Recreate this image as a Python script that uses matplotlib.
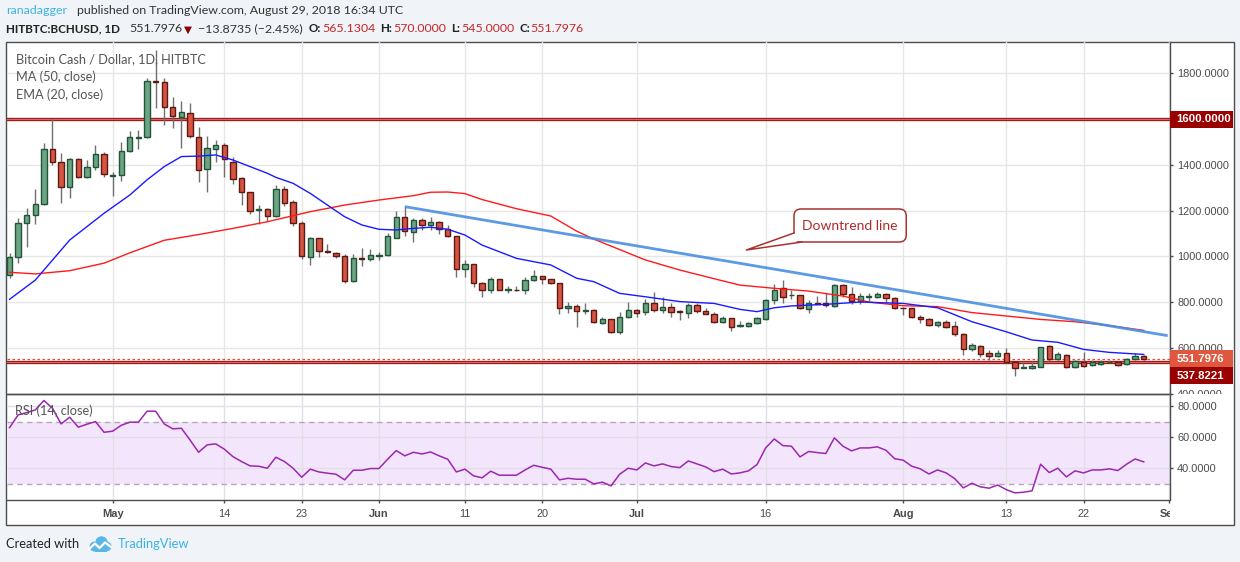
import numpy as np
import pandas as pd
import matplotlib
matplotlib.use("Agg")
import matplotlib.pyplot as plt
import matplotlib.transforms as mtransforms
from matplotlib.patches import Rectangle, FancyBboxPatch, Polygon, Circle

# =========================
# Data
# =========================
first_day = "2018-04-19"

opens = [918, 995, 1144, 1179, 1227, 1468, 1411, 1304, 1425, 1345, 1392, 1446,
         1353, 1355, 1460, 1518, 1520, 1768, 1760, 1651, 1608, 1625, 1523, 1380,
         1469, 1485, 1414, 1341, 1280, 1203, 1205, 1178, 1293, 1236, 1144, 998,
         1079, 1023, 1016, 1003, 893, 992, 987, 1003, 1006, 1082, 1170, 1105,
         1157, 1135, 1148, 1118, 1087, 943, 965, 882, 851, 899, 852, 854,
         851, 895, 912, 899, 882, 772, 781, 762, 764, 707, 724, 670,
         733, 764, 755, 794, 767, 777, 760, 754, 786, 762, 749, 711,
         729, 696, 697, 707, 726, 807, 860, 829, 829, 771, 796, 794,
         784, 873, 834, 806, 824, 824, 835, 816, 776, 773, 733, 727,
         698, 713, 695, 659, 593, 609, 576, 566, 576, 536, 513, 513,
         517, 609, 552, 570, 515, 538, 523, 529, 537, 538, 528, 551, 565.13]
highs = [1013, 1166, 1210, 1293, 1494, 1599, 1450, 1428, 1428, 1421, 1487, 1457,
         1370, 1501, 1548, 1552, 1780, 1900, 1778, 1695, 1680, 1669, 1567, 1526,
         1508, 1497, 1435, 1345, 1282, 1224, 1212, 1312, 1307, 1246, 1156, 1083,
         1081, 1054, 1019, 1010, 1010, 1036, 1030, 1017, 1100, 1199, 1217, 1166,
         1166, 1173, 1154, 1137, 1087, 984, 965, 889, 911, 902, 870, 870,
         911, 940, 915, 902, 882, 800, 791, 794, 768, 733, 727, 756,
         800, 768, 812, 842, 823, 797, 765, 794, 794, 775, 758, 739,
         732, 716, 714, 736, 813, 879, 896, 853, 832, 809, 826, 838,
         879, 879, 867, 838, 838, 844, 838, 821, 780, 775, 743, 732,
         717, 721, 717, 663, 622, 612, 590, 590, 598, 539, 542, 542,
         605, 612, 583, 573, 545, 583, 547, 547, 547, 544, 557, 576, 570]
lows = [904, 969, 1042, 1141, 1225, 1399, 1234, 1253, 1341, 1343, 1377, 1345,
        1264, 1331, 1457, 1468, 1518, 1650, 1574, 1559, 1472, 1516, 1326, 1282,
        1414, 1345, 1316, 1224, 1185, 1140, 1156, 1170, 1220, 1132, 990, 962,
        998, 1013, 991, 885, 889, 959, 981, 985, 1001, 1079, 1090, 1064,
        1115, 1115, 1096, 1086, 911, 911, 867, 824, 841, 851, 841, 850,
        834, 892, 877, 879, 746, 754, 689, 748, 707, 703, 666, 662,
        729, 736, 742, 758, 751, 736, 721, 732, 751, 746, 707, 707,
        675, 692, 692, 704, 721, 790, 794, 812, 768, 754, 790, 780,
        780, 823, 790, 790, 806, 818, 794, 768, 743, 729, 707, 694,
        692, 685, 651, 568, 587, 561, 547, 558, 532, 478, 510, 509,
        517, 542, 547, 510, 512, 515, 520, 526, 532, 520, 523, 547, 545]
closes = [995, 1144, 1179, 1227, 1468, 1411, 1304, 1425, 1345, 1392, 1446, 1358,
          1357, 1460, 1520, 1522, 1768, 1760, 1651, 1613, 1629, 1526, 1377, 1472,
          1485, 1424, 1336, 1282, 1199, 1206, 1178, 1293, 1232, 1144, 1003, 1079,
          1022, 1017, 1001, 893, 991, 988, 1004, 1006, 1087, 1170, 1109, 1157,
          1135, 1148, 1118, 1087, 943, 965, 882, 851, 899, 851, 854, 851,
          895, 912, 899, 882, 772, 781, 762, 765, 711, 724, 670, 733,
          764, 751, 794, 767, 777, 758, 757, 786, 762, 749, 711, 729,
          692, 699, 708, 729, 807, 854, 823, 831, 772, 794, 792, 786,
          873, 834, 806, 826, 827, 835, 816, 775, 773, 733, 724, 698,
          713, 689, 659, 593, 612, 573, 566, 576, 536, 513, 516, 520,
          605, 550, 571, 515, 541, 520, 538, 538, 539, 525, 551, 565.67, 551.80]

rsi_values = [66.2, 74.4, 75.9, 77.6, 83.7, 78.7, 68.6, 72.9, 66.5, 68.4, 70.1, 63.2,
              63.9, 67.7, 69.7, 69.7, 76.8, 76.8, 68.6, 65.4, 65.8, 58.3, 50.3, 55.1,
              55.7, 52.3, 47.5, 44.3, 41.5, 41.3, 40.0, 47.1, 44.3, 40.0, 34.2, 39.4,
              37.6, 36.8, 36.1, 32.5, 38.7, 38.7, 39.8, 39.8, 45.8, 51.4, 48.0, 50.3,
              49.2, 50.5, 48.0, 45.8, 37.6, 39.4, 35.1, 33.8, 38.1, 35.5, 35.5, 35.5,
              38.9, 41.9, 40.6, 39.4, 32.5, 33.5, 32.9, 32.9, 29.9, 31.0, 28.6, 36.1,
              40.0, 38.9, 43.4, 41.5, 42.8, 41.1, 40.4, 44.7, 42.8, 40.9,
              37.8, 39.4, 36.3, 37.0, 38.3, 42.4, 53.1, 58.9, 54.6, 54.2,
              47.3, 50.8, 50.1, 49.5, 59.6, 54.2, 51.2, 53.1, 53.1, 53.8,
              51.6, 46.2, 45.2, 41.3, 39.6, 36.3, 38.9, 37.0, 33.3, 27.3,
              30.3, 28.0, 27.1, 29.2, 26.2, 24.1, 24.5, 25.4, 42.6, 37.2,
              40.0, 34.4, 38.3, 37.0, 38.9, 38.9, 39.6, 38.5, 42.6, 46.0, 44.1]

ma50_dates = ["2018-04-19", "2018-04-22", "2018-04-26", "2018-04-30", "2018-05-03",
              "2018-05-07", "2018-05-11", "2018-05-15", "2018-05-19", "2018-05-20",
              "2018-05-24", "2018-05-28", "2018-06-01", "2018-06-05", "2018-06-07",
              "2018-06-09", "2018-06-11", "2018-06-13", "2018-06-17", "2018-06-21",
              "2018-06-24", "2018-06-26", "2018-07-02", "2018-07-06", "2018-07-10",
              "2018-07-13", "2018-07-17", "2018-07-21", "2018-07-25", "2018-07-28",
              "2018-08-01", "2018-08-05", "2018-08-09", "2018-08-13", "2018-08-17",
              "2018-08-21", "2018-08-25", "2018-08-29"]
ma50_values = [930, 923, 937, 970, 1015, 1070, 1095, 1122, 1151, 1160,
               1195, 1224, 1246, 1265, 1280, 1281, 1274, 1248, 1208, 1176,
               1110, 1075, 984, 940, 902, 874, 860, 848, 826, 800,
               784, 780, 754, 739, 724, 714, 697, 676]

ema20_dates = ["2018-04-19", "2018-04-22", "2018-04-26", "2018-04-30", "2018-05-03",
               "2018-05-05", "2018-05-07", "2018-05-09", "2018-05-11", "2018-05-13",
               "2018-05-15", "2018-05-19", "2018-05-20", "2018-05-22", "2018-05-24",
               "2018-05-28", "2018-05-30", "2018-06-01", "2018-06-03", "2018-06-05",
               "2018-06-07", "2018-06-09", "2018-06-11", "2018-06-13", "2018-06-17",
               "2018-06-21", "2018-06-24", "2018-06-26", "2018-06-29", "2018-07-02",
               "2018-07-06", "2018-07-10", "2018-07-13", "2018-07-15", "2018-07-17",
               "2018-07-19", "2018-07-23", "2018-07-27", "2018-08-01", "2018-08-05",
               "2018-08-09", "2018-08-13", "2018-08-16", "2018-08-19", "2018-08-22",
               "2018-08-25", "2018-08-29"]
ema20_values = [812, 896, 1071, 1188, 1268, 1334, 1392, 1436, 1438, 1443,
                1421, 1363, 1345, 1319, 1275, 1173, 1137, 1118, 1115, 1122,
                1127, 1118, 1093, 1049, 991, 962, 904, 889, 838, 823,
                802, 794, 768, 758, 775, 783, 790, 800, 794, 775,
                714, 670, 634, 624, 593, 580, 571]

# trend line drawn by the author (date, price)
trend_dates = ["2018-06-04", "2018-08-31 19:00"]
trend_prices = [1217, 653]

resistance = 1600.0
support = 537.8221
last_close = 551.7976

tick_dates = ["2018-05-01", "2018-05-14", "2018-05-23", "2018-06-01", "2018-06-11",
              "2018-06-20", "2018-07-01", "2018-07-16", "2018-08-01", "2018-08-13",
              "2018-08-22", "2018-09-01"]
tick_labels = ["May", "14", "23", "Jun", "11", "20", "Jul", "16", "Aug", "13", "22", "Sep"]
month_labels = {"May", "Jun", "Jul", "Aug", "Sep"}

# =========================
# Helpers
# =========================
t0 = pd.Timestamp(first_day)


def day_pos(dates):
    return np.array([(pd.Timestamp(d) - t0) / pd.Timedelta(days=1) for d in dates])


o = np.array(opens, float)
h = np.array(highs, float)
l = np.array(lows, float)
c = np.array(closes, float)
idx = np.arange(len(c))

W, H = 1240, 562
px = mtransforms.Affine2D().scale(1, -1).translate(0, H)  # pixel coords, origin top-left

GREEN, GREEN_EDGE = "#6ba583", "#225437"
RED, RED_EDGE = "#d75442", "#5b1a13"
TXT = "#4b4b4b"
FRAME = "#4d4d4d"
SANS = ["Lato", "DejaVu Sans"]

plt.rcParams['font.family'] = ['Liberation Sans', 'DejaVu Sans']

fig = plt.figure(figsize=(W / 100, H / 100), dpi=100)
fig.patch.set_facecolor("#f0f3f7")
fig.add_artist(Rectangle((6, 41.5), 1228, 483.5, transform=px, fc="white",
                         ec=FRAME, lw=1, zorder=-5))

left, right = 6.7, 1169.5
ax = fig.add_axes([left / W, 1 - 394 / H, (right - left) / W, (394 - 41.5) / H])
ax_rsi = fig.add_axes([left / W, 1 - 500 / H, (right - left) / W, (500 - 394) / H])

xlim = (-0.33, 134.93)
tick_pos = day_pos(tick_dates)

# =====================
# Price pane
# =====================
ax.set_xlim(*xlim)
ax.set_ylim(398.0, 1939.0)
ax.set_facecolor("none")

up = c >= o
body_lo = np.minimum(o, c)
body_h = np.maximum(np.abs(c - o), 3.0)
ax.vlines(idx, l, h, color="#707070", lw=1, zorder=3)
ax.bar(idx[up], body_h[up], bottom=body_lo[up], width=0.62, color=GREEN,
       edgecolor=GREEN_EDGE, lw=1, zorder=4)
ax.bar(idx[~up], body_h[~up], bottom=body_lo[~up], width=0.62, color=RED,
       edgecolor=RED_EDGE, lw=1, zorder=4)

ax.plot(day_pos(ma50_dates), ma50_values, color="#ff1a1a", lw=1, zorder=5)
ax.plot(day_pos(ema20_dates), ema20_values, color="#1a1aff", lw=1, zorder=5)
ax.plot(day_pos(trend_dates), trend_prices, color="#4a8fe2", lw=2.0, zorder=6,
        solid_capstyle="butt", alpha=0.9)

for lvl in (resistance, support):
    ax.axhline(lvl, color="#a01c1c", lw=2.4, zorder=2)
    ax.axhline(lvl, color="#d66a6a", lw=0.7, zorder=2)
ax.axhline(last_close, color="#e8493a", lw=0.9, ls=(0, (2, 2)), zorder=2)

yt = np.arange(400, 1801, 200)
ax.set_yticks(yt)
ax.set_yticklabels([f"{v:.4f}" for v in yt])
ax.yaxis.tick_right()
ax.tick_params(axis="y", direction="out", length=2.2, width=1, color=FRAME,
               labelsize=7.9, labelcolor=TXT, pad=3.2)
ax.set_xticks(tick_pos)
ax.tick_params(axis="x", length=0, labelbottom=False)
ax.grid(True, color="#e6e6e6", lw=1)
ax.set_axisbelow(True)
for s in ("top", "left"):
    ax.spines[s].set_visible(False)
for s in ("bottom", "right"):
    ax.spines[s].set_color(FRAME)
    ax.spines[s].set_linewidth(1)

clip_price = mtransforms.TransformedBbox(
    mtransforms.Bbox([[0, 1 - 394 / H], [1, 1]]), fig.transFigure)
for lbl in ax.get_yticklabels():
    lbl.set_clip_box(clip_price)
    lbl.set_clip_on(True)

# price tags on the right axis
ppx = (1939.0 - 398.0) / (394 - 41.5)
tag_tr = mtransforms.blended_transform_factory(ax.transAxes, ax.transData)
tag_w = 63 / (right - left)


def price_tag(center, text, face):
    ax.add_patch(Rectangle((1.0, center - 8.5 * ppx), tag_w, 17 * ppx, transform=tag_tr,
                           fc=face, ec="none", clip_on=False, zorder=10))
    ax.text(1.0 + 7 / (right - left), center, text, transform=tag_tr, color="white",
            fontsize=8.2, fontweight="bold", va="center", ha="left", clip_on=False,
            zorder=11)


price_tag(resistance, f"{resistance:.4f}", "#990000")
price_tag(last_close, f"{last_close:.4f}", "#e0573f")
price_tag(last_close - 17 * ppx, f"{support:.4f}", "#990000")

# legend texts
for y, s in ((59, "Bitcoin Cash / Dollar, 1D, HITBTC"), (77, "MA (50, close)"),
             (95, "EMA (20, close)")):
    fig.text(15.5, y, s, transform=px, fontsize=9.2, color="#555555", va="center",
             family=SANS)

# callout
bx0, by0 = ax.transData.transform((91.3, 1062.5))
bx1, by1 = ax.transData.transform((104.36, 1206.8))
tipx, tipy = ax.transData.transform((85.75, 1027.5))
ident = mtransforms.IdentityTransform()
fig.add_artist(FancyBboxPatch((bx0, by0), bx1 - bx0, by1 - by0,
                              boxstyle="round,pad=0,rounding_size=7", transform=ident,
                              fc="white", ec="#a83232", lw=1.1, zorder=20))
p1 = (bx0, by0 + 9)
p2 = (bx0 + 8, by0)
fig.add_artist(Polygon([(p1[0] + 1.5, p1[1]), (tipx, tipy), (p2[0], p2[1] + 1.5)],
                       closed=True, transform=ident, fc="white", ec="none", zorder=21))
fig.add_artist(plt.Line2D([p1[0], tipx, p2[0]], [p1[1], tipy, p2[1]], transform=ident,
                          color="#a83232", lw=1.1, zorder=22))
fig.text((bx0 + bx1) / 2, (by0 + by1) / 2 - 1, "Downtrend line", transform=ident,
         ha="center", va="center", fontsize=10, color="#b02a2a", zorder=23,
         family=SANS)

# =====================
# RSI pane
# =====================
ax_rsi.set_xlim(*xlim)
ax_rsi.set_ylim(19.5, 87.9)
ax_rsi.set_facecolor("none")
ax_rsi.axhspan(30, 70, color="#f3e6fc", lw=0, zorder=0.3)
ax_rsi.axhline(70, color="#b4a8bd", lw=1, ls=(0, (4, 3)), zorder=1)
ax_rsi.axhline(30, color="#b4a8bd", lw=1, ls=(0, (4, 3)), zorder=1)
ax_rsi.plot(idx, rsi_values, color="#9c27b0", lw=1.1, zorder=3)

ax_rsi.set_yticks([40, 60, 80])
ax_rsi.set_yticklabels([f"{v:.4f}" for v in (40, 60, 80)])
ax_rsi.yaxis.tick_right()
ax_rsi.tick_params(axis="y", direction="out", length=2.2, width=1, color=FRAME,
                   labelsize=7.9, labelcolor=TXT, pad=3.2)
ax_rsi.set_xticks(tick_pos)
ax_rsi.set_xticklabels(tick_labels)
ax_rsi.tick_params(axis="x", direction="out", length=2.2, width=1, color=FRAME,
                   labelsize=7.9, labelcolor=TXT, pad=4.2)
ax_rsi.grid(True, color="#e3dde8", lw=1)
ax_rsi.set_axisbelow(True)
ax_rsi.spines["left"].set_visible(False)
for s in ("top", "bottom", "right"):
    ax_rsi.spines[s].set_color(FRAME)
    ax_rsi.spines[s].set_linewidth(1)

clip_time = mtransforms.TransformedBbox(
    mtransforms.Bbox([[0, 0], [right / W, 1]]), fig.transFigure)
for lbl in ax_rsi.get_xticklabels():
    if lbl.get_text() in month_labels:
        lbl.set_fontweight("bold")
    lbl.set_clip_box(clip_time)
    lbl.set_clip_on(True)

fig.text(15, 411, "RSI (14, close)", transform=px, fontsize=9.2, color="#555555",
         va="center", family=SANS)

# =====================
# Header / footer
# =====================
hdr = dict(transform=px, va="center", fontsize=8.9, family=SANS)
hdr_b = dict(transform=px, va="center", fontsize=8.4, family=SANS, fontweight="bold")
fig.text(6, 11, "ranadagger", color="#3bb3e4", **hdr)
fig.text(77, 11, "published on TradingView.com, August 29, 2018 16:34 UTC",
         color="#333333", **hdr)

fig.text(6, 29, "HITBTC:BCHUSD, 1D", color="#222222", **hdr_b)
fig.text(129, 29, "551.7976", color="#333333", **hdr)
fig.text(184, 29.5, "\u25bc", transform=px, va="center", fontsize=7.5, color="#8b0000",
         family="DejaVu Sans")
fig.text(198, 29, "\u221213.8735 (\u22122.45%)", color="#333333", **hdr)
for x_lab, lab, x_val, val in ((309, "O:", 322, "565.1304"), (380, "H:", 393, "570.0000"),
                               (451, "L:", 461, "545.0000"), (519, "C:", 530, "551.7976")):
    fig.text(x_lab, 29, lab, color="#222222", **hdr_b)
    fig.text(x_val, 29, val, color="#c62828", **hdr)

fig.text(6, 544, "Created with", color="#222222", transform=px, va="center",
         fontsize=9.3, family=SANS)
# TradingView cloud logo
logo_blue = "#59b6e6"
for cx, cy, r in ((94.5, 546.5, 5.0), (101.5, 542.5, 6.2), (107.0, 546.5, 4.6)):
    fig.add_artist(Circle((cx, cy), r, transform=px, fc=logo_blue, ec="none", zorder=5))
fig.add_artist(Rectangle((94.5, 546.5), 12.5, 5, transform=px, fc=logo_blue,
                         ec="none", zorder=5))
fig.add_artist(plt.Line2D([89, 95, 99.5, 105, 111], [549, 543.5, 548, 542.5, 547],
                          transform=px, color="white", lw=1.6, zorder=6))
fig.text(118, 544, "TradingView", color="#3bb3e4", transform=px, va="center",
         fontsize=9.3, family=SANS)

fig.savefig("out.png", dpi=100, facecolor=fig.get_facecolor())
